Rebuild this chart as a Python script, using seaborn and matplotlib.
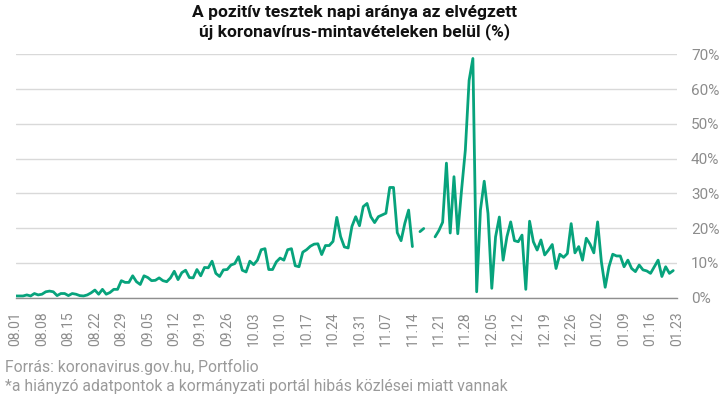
import numpy as np
import pandas as pd
import matplotlib
matplotlib.use("Agg")
import matplotlib.pyplot as plt
import seaborn as sns

# ---- data (daily positive-test ratio, %, 2020-08-01 .. 2021-01-22) ----
start_date = "2020-08-01"
values = [
    0.5, 0.5, 0.5, 0.8, 0.5, 1.2, 0.8, 1.0, 1.7, 1.9,
    1.7, 0.6, 1.2, 1.2, 0.6, 1.2, 1.0, 0.6, 0.5, 0.8,
    1.4, 2.2, 1.0, 2.4, 1.0, 1.5, 2.4, 2.4, 4.9, 4.4,
    4.4, 6.3, 4.6, 3.8, 6.3, 5.8, 4.9, 5.0, 5.7, 4.9,
    4.6, 5.7, 7.6, 5.2, 7.2, 7.9, 5.8, 5.7, 8.1, 6.3,
    8.7, 8.6, 10.5, 7.0, 6.1, 8.0, 8.1, 9.4, 9.8, 11.8,
    7.9, 7.4, 10.5, 9.5, 10.8, 13.8, 14.1, 8.1, 8.1, 10.3,
    11.4, 10.8, 13.8, 14.1, 9.2, 8.9, 13.1, 13.8, 14.8, 15.4,
    15.5, 12.4, 15.0, 15.0, 16.2, 23.1, 17.6, 14.6, 14.3, 20.5,
    23.3, 20.7, 26.2, 27.1, 23.3, 21.6, 23.3, 23.8, 24.3, 31.7,
    31.7, 18.7, 16.4, 21.4, 25.2, 14.7, np.nan, 19.0, 19.9, np.nan,
    np.nan, 17.5, 19.3, 21.7, 38.7, 18.6, 34.8, 18.4, 30.9, 42.4,
    62.5, 68.8, 1.7, 25.2, 33.5, 24.2, 2.7, 17.5, 23.2, 10.8,
    17.5, 21.8, 16.4, 16.1, 18.0, 2.4, 22.0, 16.1, 13.7, 16.6,
    12.3, 13.7, 15.3, 8.4, 12.5, 11.6, 12.7, 21.3, 12.9, 14.7,
    10.8, 17.1, 15.4, 12.9, 21.8, 10.3, 3.0, 8.9, 12.5, 12.0,
    12.0, 8.9, 10.8, 8.4, 7.5, 9.4, 8.0, 7.7, 7.0, 8.9,
    10.8, 6.1, 8.9, 7.0, 7.8,
]
tick_labels = ["08.01", "08.08", "08.15", "08.22", "08.29", "09.05", "09.12",
               "09.19", "09.26", "10.03", "10.10", "10.17", "10.24", "10.31",
               "11.07", "11.14", "11.21", "11.28", "12.05", "12.12", "12.19",
               "12.26", "01.02", "01.09", "01.16", "01.23"]
y_ticks = [0, 10, 20, 30, 40, 50, 60, 70]

title = "A pozitív tesztek napi aránya az elvégzett\núj koronavírus-mintavételeken belül (%)"
source = "Forrás: koronavirus.gov.hu, Portfolio"
note = "*a hiányzó adatpontok a kormányzati portál hibás közlései miatt vannak"

# ---- frame ----
df = pd.DataFrame({"day": np.arange(len(values)), "value": values})
df["date"] = pd.date_range(start_date, periods=len(values), freq="D")
df["seg"] = df["value"].isna().cumsum()
df = df.dropna(subset=["value"])

sns.set_theme(style="white")
plt.rcParams["font.family"] = ["Roboto", "DejaVu Sans"]

W, H = 723, 399
fig = plt.figure(figsize=(W / 100, H / 100), dpi=100)
left_px, right_px, top_px, bot_px = 15.5, 677, 54.3, 297.7
ax = fig.add_axes([left_px / W, 1 - bot_px / H, (right_px - left_px) / W, (bot_px - top_px) / H])

line_color = "#07a37c"
sns.lineplot(data=df, x="day", y="value", units="seg", estimator=None,
             color=line_color, linewidth=2.0, ax=ax, legend=False)

ax.set_xlim(0, 175)
ax.set_ylim(0, 70)
ax.set_yticks(y_ticks)
ax.set_yticklabels([f"{v}%" for v in y_ticks])
ax.yaxis.tick_right()
ax.grid(axis="y", color="#d9d9d9", linewidth=1.0)
ax.grid(axis="x", visible=False)
ax.set_xticks([7 * i for i in range(len(tick_labels))])
ax.set_xticklabels(tick_labels, rotation=90)
ax.tick_params(axis="x", length=0, pad=10, labelsize=10, labelcolor="#8c8c8c")
ax.tick_params(axis="y", length=0, pad=10, labelsize=11, labelcolor="#8c8c8c")
for s in ["top", "left", "right"]:
    ax.spines[s].set_visible(False)
ax.spines["bottom"].set_color("#8f8f8f")
ax.spines["bottom"].set_linewidth(1.0)
ax.set_xlabel("")
ax.set_ylabel("")
ax.set_axisbelow(True)

fig.text(355 / W, 1 - 5 / H, title, ha="center", va="top", fontsize=12.5,
         fontweight="bold", color="#111111", linespacing=1.25)
fig.text(5 / W, 1 - 367 / H, source, ha="left", va="center", fontsize=11.3,
         color="#9a9a9a")
fig.text(5 / W, 1 - 386 / H, note, ha="left", va="center", fontsize=11.3,
         color="#9a9a9a")

fig.savefig("out.png", dpi=100)
